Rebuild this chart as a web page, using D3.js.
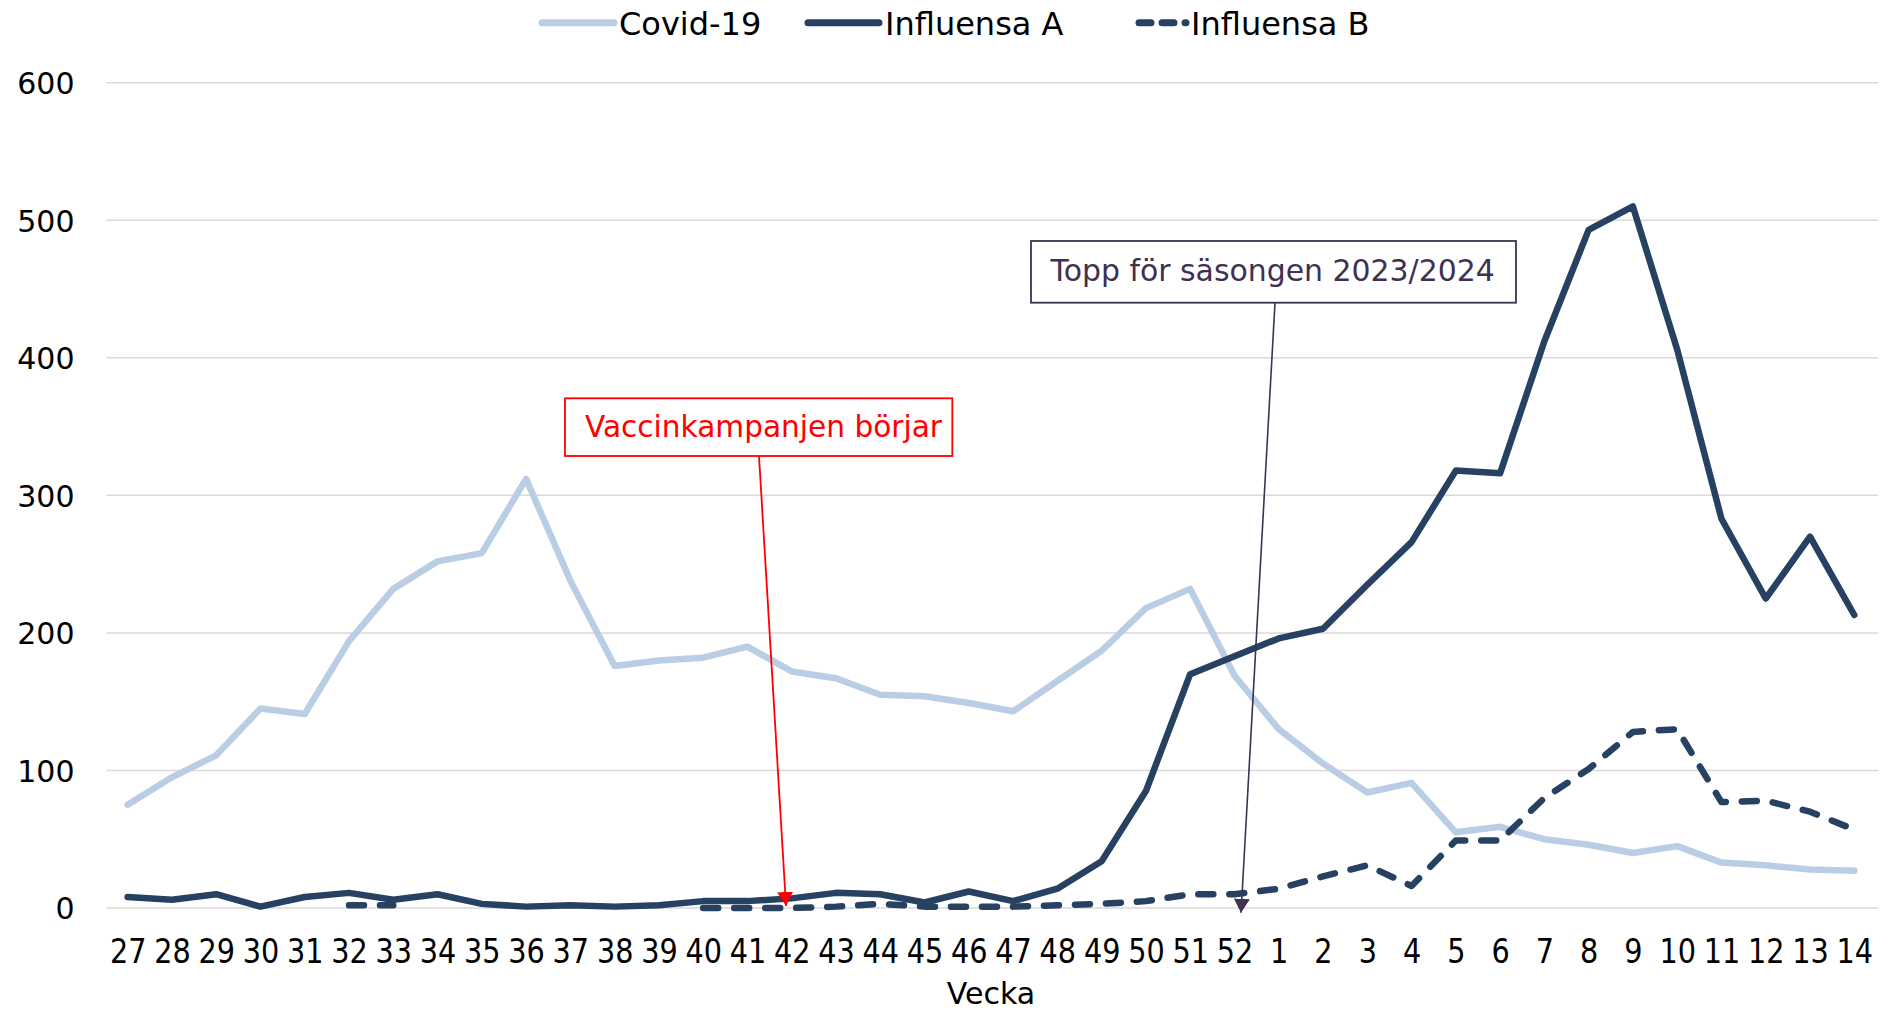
<!DOCTYPE html>
<html><head><meta charset="utf-8">
<script src="https://cdn.jsdelivr.net/npm/d3@7"></script>
<style>
html,body{margin:0;padding:0;background:#fff;}
svg{display:block;font-family:"DejaVu Sans",Verdana,sans-serif;}
</style></head>
<body>
<svg id="chart" width="1888" height="1011"></svg>
<script>
const weeks = ["27","28","29","30","31","32","33","34","35","36","37","38","39","40","41","42","43","44","45","46","47","48","49","50","51","52","1","2","3","4","5","6","7","8","9","10","11","12","13","14"];
const covid = [75,95,111,145,141,194,232,252,258,312,238,176,180,182,190,172,167,155,154,149,143,165,187,218,232,169,130,105,84,91,55,59,50,46,40,45,33,31,28,27];
const influensaA = [8,6,10,1,8,11,6,10,3,1,2,1,2,5,5,7,11,10,4,12,5,14,34,85,170,183,196,203,235,266,318,316,412,493,510,406,283,225,270,213];
const influensaB = [null,null,null,null,null,2,2,null,null,null,null,null,null,0,0,0,1,3,1,1,1,2,3,5,10,10,14,23,31,16,49,49,80,101,128,130,77,78,70,57];
const yTicks = [0,100,200,300,400,500,600];
const seriesNames = ["Covid-19","Influensa A","Influensa B"];
const xTitle = "Vecka";
const annotations = [
  {text:"Vaccinkampanjen börjar", week:"42", value:1.5, color:"#FF0000"},
  {text:"Topp för säsongen 2023/2024", week:"52", value:-3.5, color:"#3F3151"}
];

const svg = d3.select("#chart");
const W = 1888, H = 1011;
const m = {left:105.5, right:11.6, top:82.7, bottom:103};
const x = d3.scalePoint().domain(weeks).range([m.left, W - m.right]).padding(0.5);
const y = d3.scaleLinear().domain([0,600]).range([H - m.bottom, m.top]);

// gridlines
svg.append("g").selectAll("line").data(yTicks).join("line")
  .attr("x1", m.left + 1).attr("x2", W - m.right + 2)
  .attr("y1", d => y(d)).attr("y2", d => y(d))
  .attr("stroke", "#D9D9D9").attr("stroke-width", 1.5);

// y axis labels
const yAxis = d3.axisLeft(y).tickValues(yTicks).tickSize(0).tickPadding(0);
const gy = svg.append("g").attr("transform", `translate(${m.left - 31},0)`).call(yAxis);
gy.select(".domain").remove();
gy.selectAll("text").attr("font-size", 30).attr("fill", "#000")
  .attr("font-family", "DejaVu Sans, sans-serif").attr("dy", "0.36em");

// x axis labels (condensed)
const xAxis = d3.axisBottom(x).tickSize(0).tickPadding(0);
const gx = svg.append("g").attr("transform", `translate(0,${H - m.bottom})`).call(xAxis);
gx.select(".domain").remove();
gx.selectAll(".tick text").attr("font-size", 33).attr("fill", "#000")
  .attr("font-family", "DejaVu Sans, sans-serif")
  .attr("y", 0).attr("dy", 0)
  .attr("transform", "translate(0,54.5) scale(0.87,1)");

svg.append("text").attr("x", (m.left + W - m.right)/2).attr("y", 1003.5)
  .attr("text-anchor", "middle").attr("font-size", 30).attr("fill", "#000").text(xTitle);

// lines
const line = d3.line().defined(d => d.v !== null).x(d => x(d.w)).y(d => y(d.v));
const mk = arr => arr.map((v,i) => ({w:weeks[i], v}));
const styles = [
  {data: covid, color:"#B9CDE5", dash:null},
  {data: influensaA, color:"#264161", dash:null},
  {data: influensaB, color:"#264161", dash:"15,16"}
];
styles.forEach(s => {
  svg.append("path").datum(mk(s.data)).attr("d", line)
    .attr("fill","none").attr("stroke", s.color).attr("stroke-width", 6.5)
    .attr("stroke-linejoin","round").attr("stroke-linecap","round")
    .attr("stroke-dasharray", s.dash);
});

// legend
const legendItems = [
  {name:seriesNames[0], color:"#B9CDE5", dash:null, x1:542, x2:614, tx:619},
  {name:seriesNames[1], color:"#264161", dash:null, x1:808, x2:879, tx:885},
  {name:seriesNames[2], color:"#264161", dash:"12,11", x1:1139, x2:1186, tx:1191}
];
const lg = svg.append("g");
legendItems.forEach(it => {
  lg.append("line").attr("x1", it.x1).attr("x2", it.x2).attr("y1", 22.7).attr("y2", 22.7)
    .attr("stroke", it.color).attr("stroke-width", 7).attr("stroke-linecap","round")
    .attr("stroke-dasharray", it.dash);
  lg.append("text").attr("x", it.tx).attr("y", 34.5).attr("font-size", 32).attr("fill","#000").text(it.name);
});

// annotations
const defs = svg.append("defs");
annotations.forEach((a,i) => {
  defs.append("marker").attr("id","arr"+i).attr("markerUnits","userSpaceOnUse")
    .attr("viewBox","0 0 14 16").attr("markerWidth",14).attr("markerHeight",16)
    .attr("refX",14).attr("refY",8).attr("orient","auto")
    .append("path").attr("d","M0,0 L14,8 L0,16 Z").attr("fill", a.color);
});
const boxes = [
  {x:565, y:398.3, w:387.3, h:57.7, tx:585, ty:437, lx:759, dx:-5.7, fs:29.6},
  {x:1031, y:241, w:485, h:61.7, tx:1050.5, ty:280.5, lx:1275, dx:6.6, fs:29.9}
];
annotations.forEach((a,i) => {
  const b = boxes[i];
  const tipX = x(a.week) + b.dx, tipY = y(a.value);
  svg.append("line").attr("x1", b.lx).attr("y1", b.y + b.h).attr("x2", tipX).attr("y2", tipY)
    .attr("stroke", a.color).attr("stroke-width", i === 0 ? 1.8 : 1.6)
    .attr("marker-end", `url(#arr${i})`);
  svg.append("rect").attr("x", b.x).attr("y", b.y).attr("width", b.w).attr("height", b.h)
    .attr("fill","#fff").attr("stroke", a.color).attr("stroke-width", 1.8);
  svg.append("text").attr("x", b.tx).attr("y", b.ty).attr("font-size", b.fs)
    .attr("fill", a.color).text(a.text);
});
</script>
</body></html>
